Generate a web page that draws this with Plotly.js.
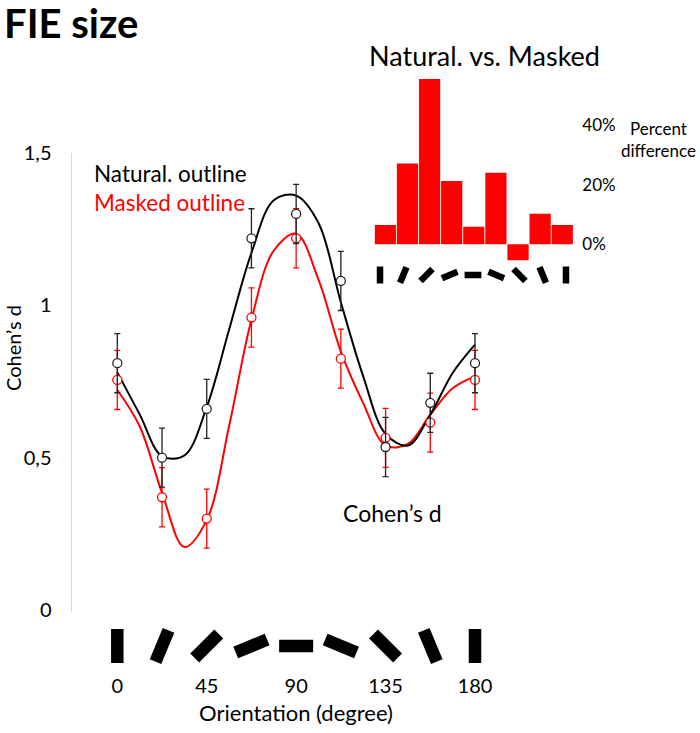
<!DOCTYPE html>
<html>
<head>
<meta charset="utf-8">
<script src="https://cdn.plot.ly/plotly-3.0.1.min.js"></script>
<style>html,body{margin:0;padding:0;background:#fff;}#chart{width:700px;height:733px;}</style>
</head>
<body>
<div id="chart"></div>
<script>
// ---- data ----
const orientations = [0, 22.5, 45, 67.5, 90, 112.5, 135, 157.5, 180];
const naturalD   = [0.81, 0.50, 0.66, 1.22, 1.30, 1.08, 0.535, 0.68, 0.81];
const naturalErr = [0.097, 0.097, 0.097, 0.097, 0.097, 0.097, 0.097, 0.097, 0.097];
const maskedD    = [0.755, 0.37, 0.30, 0.96, 1.22, 0.825, 0.565, 0.615, 0.755];
const maskedErr  = [0.097, 0.097, 0.097, 0.097, 0.097, 0.097, 0.097, 0.097, 0.097];

// fitted curves, every 11.25 degrees
const curveX = [0, 11.25, 22.5, 33.75, 45, 56.25, 67.5, 78.75, 90, 101.25, 112.5, 123.75, 135, 146.25, 157.5, 168.75, 180];
const naturalCurveY = [0.78, 0.642, 0.505, 0.507, 0.666, 0.92, 1.172, 1.345, 1.36, 1.27, 1.01, 0.767, 0.578, 0.54, 0.641, 0.778, 0.871];
const maskedCurveY  = [0.722, 0.603, 0.385, 0.207, 0.295, 0.603, 0.953, 1.18, 1.235, 1.084, 0.848, 0.679, 0.54, 0.545, 0.641, 0.728, 0.767];

// inset: percent difference natural vs masked
const percentDiff = [6.5, 27.1, 55.4, 21.2, 5.9, 24.0, -5.3, 10.2, 6.5];
const yTickVals = [0, 0.5, 1, 1.5];
const yTickText = ['0', '0,5', '1', '1,5'];
const xTickVals = [0, 45, 90, 135, 180];
const pctTickVals = [0, 20, 40];
const pctTickText = ['0%', '20%', '40%'];

// ---- layout helpers ----
const W = 700, H = 733;
const px = x => x / W;
const py = y => 1 - y / H;
const FONT = 'Lato, "Open Sans", sans-serif';
const zeros = orientations.map(() => 0);

const traces = [
  {x: curveX, y: maskedCurveY, type: 'scatter', mode: 'lines', xaxis: 'x', yaxis: 'y',
   line: {color: '#ff0000', width: 2, shape: 'spline', smoothing: 1}, hoverinfo: 'skip', showlegend: false},
  {x: curveX, y: naturalCurveY, type: 'scatter', mode: 'lines', xaxis: 'x', yaxis: 'y',
   line: {color: '#000', width: 2, shape: 'spline', smoothing: 1}, hoverinfo: 'skip', showlegend: false},
  {x: orientations, y: maskedD, type: 'scatter', mode: 'markers', xaxis: 'x', yaxis: 'y', name: 'Masked outline',
   error_y: {type: 'data', array: maskedErr, visible: true, color: '#ff0000', thickness: 1.3, width: 3},
   marker: {symbol: 'circle', size: 9, color: '#fff', line: {color: '#ff0000', width: 1.3}}, showlegend: false},
  {x: orientations, y: naturalD, type: 'scatter', mode: 'markers', xaxis: 'x', yaxis: 'y', name: 'Natural. outline',
   error_y: {type: 'data', array: naturalErr, visible: true, color: '#222', thickness: 1.3, width: 3},
   marker: {symbol: 'circle', size: 9, color: '#fff', line: {color: '#222', width: 1.3}}, showlegend: false},
  // orientation glyphs under main plot (line symbol length = 1.4 * size)
  {x: orientations, y: zeros, type: 'scatter', mode: 'markers', xaxis: 'x3', yaxis: 'y3',
   marker: {symbol: 'line-ns', size: 24.3, angle: orientations, color: '#000', line: {color: '#000', width: 12.5}},
   hoverinfo: 'skip', showlegend: false},
  // inset bars
  {x: orientations, y: percentDiff, type: 'bar', xaxis: 'x2', yaxis: 'y2',
   marker: {color: '#ff0000'}, showlegend: false},
  // inset glyphs
  {x: orientations, y: zeros, type: 'scatter', mode: 'markers', xaxis: 'x4', yaxis: 'y4',
   marker: {symbol: 'line-ns', size: 12, angle: orientations, color: '#000', line: {color: '#000', width: 6.5}},
   hoverinfo: 'skip', showlegend: false}
];

const xLeft = -(117.3 - 72) / 1.987;
const xRight = 180 + (520 - 475) / 1.987;

const layout = {
  width: W, height: H,
  margin: {l: 0, r: 0, t: 0, b: 0},
  paper_bgcolor: '#fff', plot_bgcolor: 'rgba(0,0,0,0)',
  font: {family: FONT, color: '#000', size: 18},
  showlegend: false,
  bargap: 0.04,
  title: {text: '<b>FIE size</b>', x: px(4), xanchor: 'left', y: py(24), yanchor: 'middle',
          xref: 'container', yref: 'container', font: {family: FONT, size: 40, color: '#000'}},
  xaxis: {domain: [px(72), px(520)], range: [xLeft, xRight], anchor: 'y',
          showline: false, showgrid: false, zeroline: false, showticklabels: false, ticks: ''},
  yaxis: {domain: [py(612), py(153)], range: [-0.0066, 1.5], anchor: 'x',
          showline: true, linecolor: '#d9d9d9', linewidth: 1.5, showgrid: false, zeroline: false,
          tickvals: yTickVals, ticktext: yTickText, ticks: '', ticklabelstandoff: 15,
          tickfont: {size: 20, family: FONT}},
  xaxis3: {domain: [px(72), px(520)], range: [xLeft, xRight], anchor: 'y3',
           showline: false, showgrid: false, zeroline: false, tickvals: xTickVals, ticks: '',
           tickfont: {size: 20, family: FONT}, ticklabelstandoff: 0,
           title: {text: 'Orientation (degree)', font: {size: 22, family: FONT}, standoff: 9}},
  yaxis3: {domain: [py(672), py(620)], range: [-1, 1], anchor: 'x3', visible: false},
  xaxis2: {domain: [px(374.3), px(573.3)], range: [-11.25, 191.25], anchor: 'y2', visible: false},
  yaxis2: {domain: [py(265.2), py(74.2)], range: [-7, 57], anchor: 'x2', side: 'right',
           showline: false, showgrid: false, zeroline: false, tickvals: pctTickVals, ticktext: pctTickText,
           ticks: '', ticklabelstandoff: 8, tickfont: {size: 17, family: FONT}},
  xaxis4: {domain: [px(368.4), px(577.6)], range: [-11.25, 191.25], anchor: 'y4', visible: false},
  yaxis4: {domain: [py(286), py(264)], range: [-1, 1], anchor: 'x4', visible: false},
  annotations: [
    {text: 'Natural. outline', x: px(92), y: py(173), xref: 'paper', yref: 'paper', xanchor: 'left', yanchor: 'middle',
     showarrow: false, font: {size: 22.5, color: '#000', family: FONT}},
    {text: 'Masked outline', x: px(92), y: py(202), xref: 'paper', yref: 'paper', xanchor: 'left', yanchor: 'middle',
     showarrow: false, font: {size: 22.5, color: '#ff0000', family: FONT}},
    {text: 'Cohen\u2019s d', x: px(13), y: py(348), xref: 'paper', yref: 'paper', xanchor: 'center', yanchor: 'middle',
     textangle: -90, showarrow: false, font: {size: 20, color: '#000', family: FONT}},
    {text: 'Cohen\u2019s d', x: px(392), y: py(513), xref: 'paper', yref: 'paper', xanchor: 'center', yanchor: 'middle',
     showarrow: false, font: {size: 23, color: '#000', family: FONT}},
    {text: 'Natural. vs. Masked', x: px(484), y: py(55), xref: 'paper', yref: 'paper', xanchor: 'center', yanchor: 'middle',
     showarrow: false, font: {size: 27, color: '#000', family: FONT}},
    {text: 'Percent<br>difference', x: px(658), y: py(139), xref: 'paper', yref: 'paper', xanchor: 'center', yanchor: 'middle',
     showarrow: false, align: 'center', font: {size: 17, color: '#000', family: FONT}}
  ]
};

Plotly.newPlot('chart', traces, layout, {staticPlot: true, displayModeBar: false});
</script>
</body>
</html>
